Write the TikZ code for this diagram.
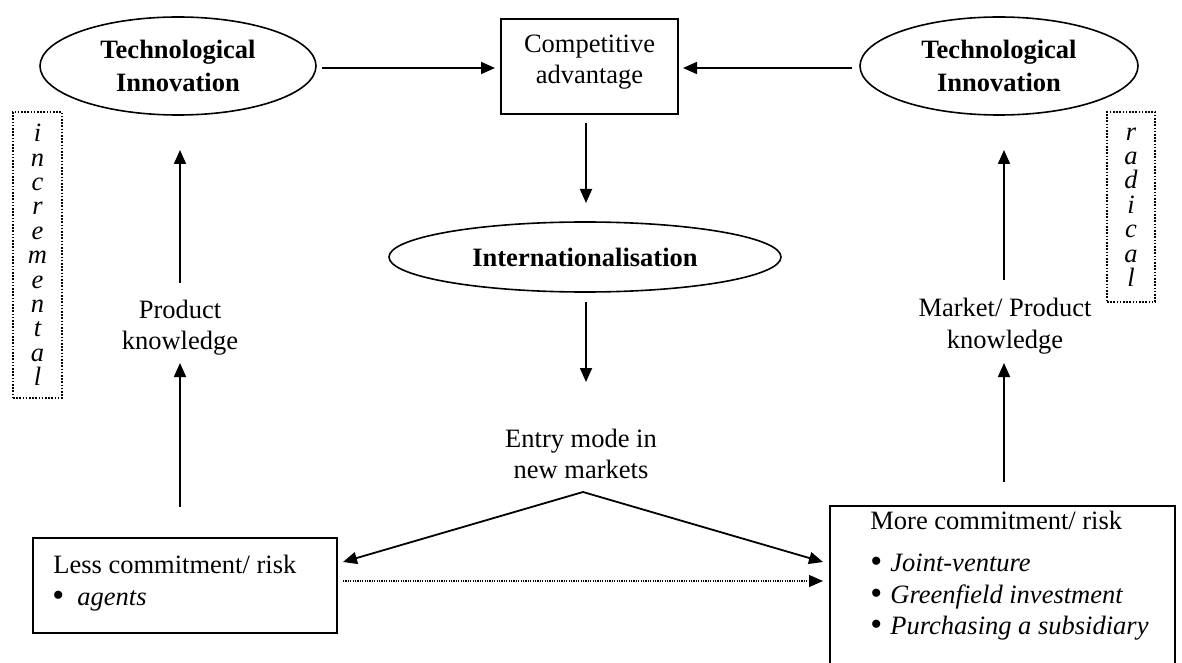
\documentclass[tikz,border=0pt]{standalone}
\usepackage{fontspec}
\setmainfont{Liberation Serif}
\usetikzlibrary{shapes.geometric,arrows.meta}
\begin{document}
\begin{tikzpicture}[x=0.5pt,y=-0.5pt,
  every node/.style={font=\fontsize{13.25}{15.75}\selectfont},
  ell/.style={draw, ellipse, line width=0.8pt, inner sep=0pt, align=center,
    font=\fontsize{13.25}{16.25}\selectfont\bfseries},
  box/.style={draw, rectangle, line width=0.9pt, inner sep=0pt},
  dotbox/.style={draw, line width=0.8pt, dash pattern=on 0.8pt off 0.8pt, inner sep=0pt, align=center,
    font=\fontsize{13.25}{12.2}\selectfont\itshape},
  arr/.style={line width=0.9pt, -{Triangle[length=7pt,width=6pt]}},
  dotarr/.style={line width=0.6pt, dash pattern=on 0.6pt off 0.6pt, -{Triangle[length=7pt,width=6pt]}},
  lbl/.style={align=center, inner sep=0pt},
  txt/.style={anchor=base west, inner sep=0pt},
]
\useasboundingbox (0,0) rectangle (1182,663);
\newcommand{\bul}{\raisebox{-0.6pt}{\fontsize{17}{17}\selectfont\textbullet}}

% top row
\node[ell, minimum width=138pt, minimum height=49pt] (til) at (178,66) {Technological\\Innovation};
\node[box, minimum width=88.5pt, minimum height=47.5pt] (ca) at (589.5,66.5) {};
\node[lbl] (cat) at (589.5,62) {Competitive\\advantage};
\node[ell, minimum width=139pt, minimum height=49pt] (tir) at (999,66) {Technological\\Innovation};

% middle
\node[ell, minimum width=196pt, minimum height=35pt] (int) at (585,257) {Internationalisation};
\node[lbl] (entry) at (581,454) {Entry mode in\\new markets};
\node[lbl] (pk) at (180,327.5) {Product\\knowledge};
\node[lbl] (mpk) at (1005,326) {Market/ Product\\knowledge};

% dotted side boxes
\node[dotbox, minimum width=24.5pt, minimum height=143pt] (inc) at (37.5,255) {i\\n\\c\\r\\e\\m\\e\\n\\t\\a\\l};
\node[dotbox, minimum width=24pt, minimum height=95pt] (rad) at (1131,207) {r\\a\\d\\i\\c\\a\\l};

% bottom boxes
\node[box, minimum width=152pt, minimum height=47.5pt, anchor=north west] (less) at (32,537) {};
\node[txt] (lesst) at (53,573) {Less commitment/ risk};
\node[txt] (lessb) at (52,605) {\bul};
\node[txt] (lessa) at (77,605) {\textit{agents}};

\node[box, minimum width=172.5pt, minimum height=85pt, anchor=north west] (more) at (829,505) {};
\node[txt] (moret) at (870,529) {More commitment/ risk};
\node[txt] (b1) at (870,571) {\bul};
\node[txt] (m1) at (890,571) {\textit{Joint-venture}};
\node[txt] (b2) at (870,603) {\bul};
\node[txt] (m2) at (890,603) {\textit{Greenfield investment}};
\node[txt] (b3) at (870,634) {\bul};
\node[txt] (m3) at (890,634) {\textit{Purchasing a subsidiary}};

% coordinates for connector ends
\coordinate (h1s) at (322,68);
\coordinate (h1e) at (495,68);
\coordinate (h2s) at (852,68);
\coordinate (h2e) at (683,68);
\coordinate (v1s) at (586,123);
\coordinate (v1e) at (586,203);
\coordinate (v2s) at (586,302);
\coordinate (v2e) at (586,382);
\coordinate (apex) at (583,492);
\coordinate (tipl) at (343,562);
\coordinate (tipr) at (823,562);
\coordinate (dots) at (343,581);
\coordinate (dote) at (823,581);
\coordinate (l1) at (180,507);
\coordinate (l2) at (180,363);
\coordinate (l3) at (180,283);
\coordinate (l4) at (180,150);
\coordinate (r1) at (1004,482);
\coordinate (r2) at (1004,363);
\coordinate (r3) at (1004,280);
\coordinate (r4) at (1004,150);

\draw[arr] (h1s) -- (h1e);
\draw[arr] (h2s) -- (h2e);
\draw[arr] (v1s) -- (v1e);
\draw[arr] (v2s) -- (v2e);
\draw[arr] (apex) -- (tipl);
\draw[arr] (apex) -- (tipr);
\draw[dotarr] (dots) -- (dote);
\draw[arr] (l1) -- (l2);
\draw[arr] (l3) -- (l4);
\draw[arr] (r1) -- (r2);
\draw[arr] (r3) -- (r4);
\end{tikzpicture}
\end{document}
